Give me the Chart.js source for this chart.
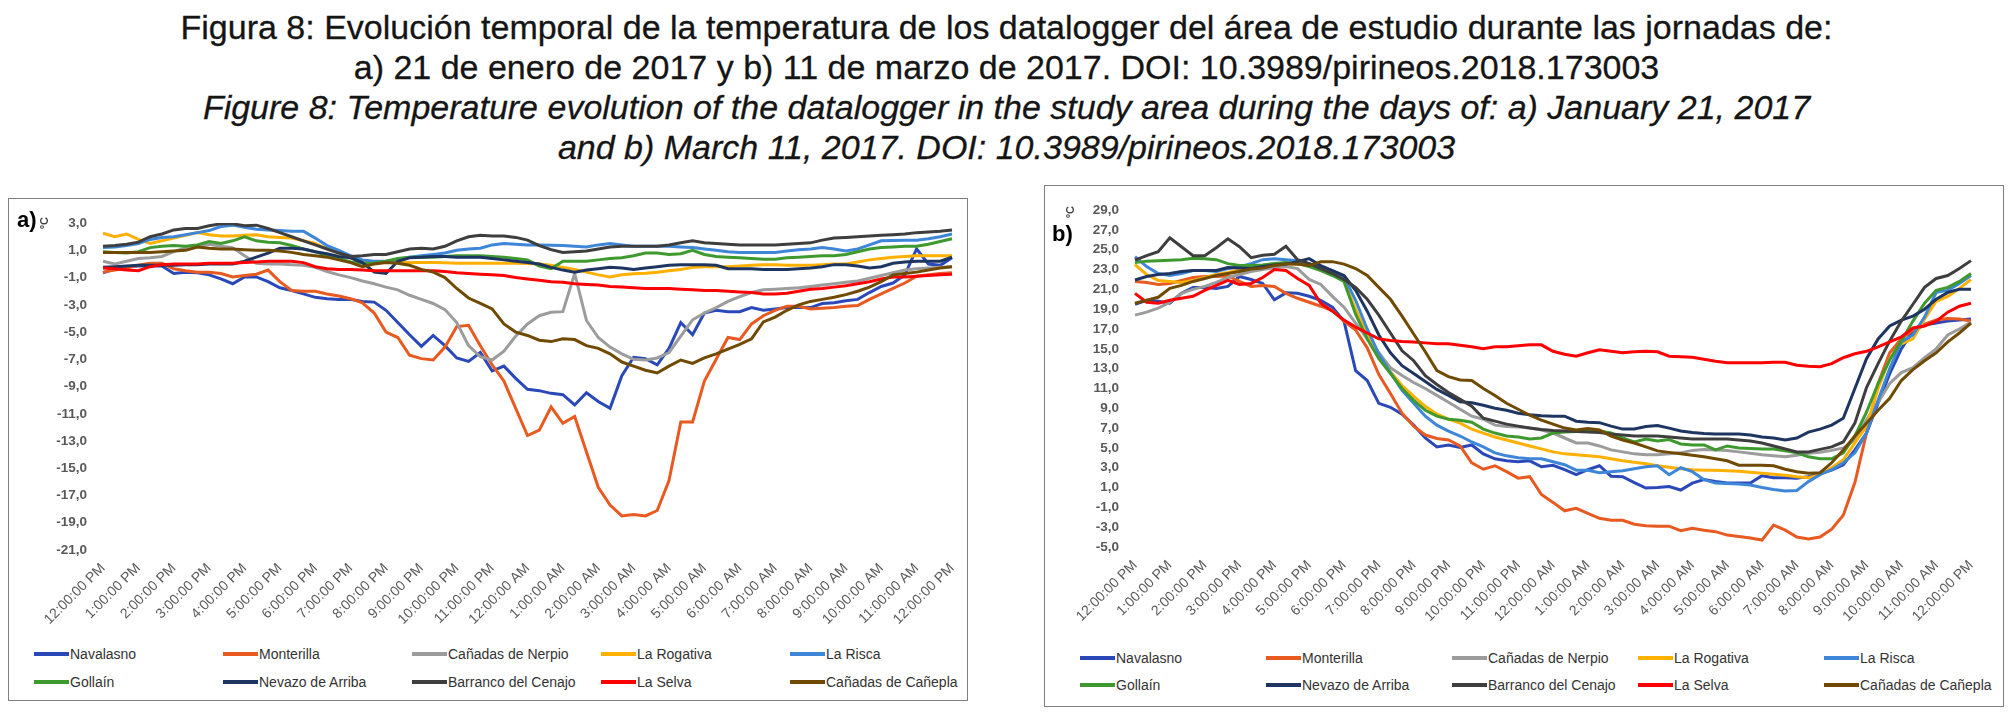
<!DOCTYPE html>
<html>
<head>
<meta charset="utf-8">
<script src="https://cdn.jsdelivr.net/npm/chart.js@4.4.1/dist/chart.umd.min.js"></script>
<style>
  body { margin:0; background:#fff; width:2013px; height:714px; overflow:hidden; position:relative;
         font-family:"Liberation Sans", Arial, sans-serif; }
  #title { position:absolute; left:0; top:7px; width:2013px; text-align:center;
           font-size:34px; line-height:40px; color:#151515; -webkit-text-stroke:0.3px #151515; }
  #title .it { font-style:italic; }
  .panel { position:absolute; box-sizing:border-box; border:1.5px solid #7f7f7f; background:#fff; }
  .panel canvas { position:absolute; left:0; top:0; }
  .tag { position:absolute; font:bold 22px "Liberation Sans", Arial, sans-serif; color:#000; line-height:22px; }
  .unit { position:absolute; font:bold 11px "Liberation Sans", Arial, sans-serif; color:#404040;
          line-height:11px; white-space:nowrap; transform:rotate(-90deg); transform-origin:left top; }
  .legend { position:absolute; display:grid; }
  .item { display:flex; align-items:center; font-size:14px; color:#333; white-space:nowrap; }
  .item i { display:inline-block; width:35px; height:4px; margin-right:1px; }
</style>
</head>
<body>
<div id="title">
  <div>Figura 8: Evolución temporal de la temperatura de los datalogger del área de estudio durante las jornadas de:</div>
  <div>a) 21 de enero de 2017 y b) 11 de marzo de 2017. DOI: 10.3989/pirineos.2018.173003</div>
  <div class="it">Figure 8: Temperature evolution of the datalogger in the study area during the days of: a) January 21, 2017</div>
  <div class="it">and b) March 11, 2017. DOI: 10.3989/pirineos.2018.173003</div>
</div>

<div class="panel" id="panelA" style="left:8px; top:198px; width:960px; height:503px;">
  <canvas id="chartA" width="957" height="441"></canvas>
  <div class="tag" style="left:8px; top:10px;">a)</div>
  <div class="unit" style="left:30px; top:30px;">ºC</div>
  <div class="legend" id="legendA" style="left:25px; top:441px; grid-template-columns:repeat(5,189px); grid-auto-rows:28px;"></div>
</div>

<div class="panel" id="panelB" style="left:1044px; top:185px; width:960px; height:522px;">
  <canvas id="chartB" width="957" height="451"></canvas>
  <div class="tag" style="left:7px; top:37px;">b)</div>
  <div class="unit" style="left:20px; top:32px;">ºC</div>
  <div class="legend" id="legendB" style="left:35px; top:458px; grid-template-columns:repeat(5,186px); grid-auto-rows:27px;"></div>
</div>

<script>
// one reading every 20 minutes, 12:00 PM to 12:00 PM
var hourLabels = ['12:00:00 PM','1:00:00 PM','2:00:00 PM','3:00:00 PM','4:00:00 PM','5:00:00 PM',
  '6:00:00 PM','7:00:00 PM','8:00:00 PM','9:00:00 PM','10:00:00 PM','11:00:00 PM','12:00:00 AM',
  '1:00:00 AM','2:00:00 AM','3:00:00 AM','4:00:00 AM','5:00:00 AM','6:00:00 AM','7:00:00 AM',
  '8:00:00 AM','9:00:00 AM','10:00:00 AM','11:00:00 AM','12:00:00 PM'];
var stations = ['Navalasno','Monterilla','Cañadas de Nerpio','La Rogativa','La Risca',
  'Gollaín','Nevazo de Arriba','Barranco del Cenajo','La Selva','Cañadas de Cañepla'];
var colores = ['#2a48b8','#e85a20','#9c9c9c','#ffb000','#3d86d8',
  '#3e9a2e','#1e3562','#3e3e3e','#ff0000','#6f4a00'];

// a) 21 de enero de 2017
var navalasnoA = [-0.65,-0.35,-0.2,-0.15,-0.15,-0.15,-0.7,-0.6,-0.65,-0.8,
  -1.1,-1.45,-0.95,-0.95,-1.3,-1.75,-1.95,-2.2,-2.45,-2.55,
  -2.6,-2.6,-2.75,-2.8,-3.4,-4.3,-5.2,-6.05,-5.25,-6.0,
  -6.9,-7.15,-6.5,-7.85,-7.5,-8.4,-9.2,-9.3,-9.5,-9.6,
  -10.35,-9.45,-10.1,-10.6,-8.2,-6.85,-6.95,-7.4,-6.2,-4.3,
  -5.2,-3.6,-3.4,-3.5,-3.5,-3.2,-3.4,-3.3,-3.2,-3.2,
  -3.2,-2.9,-2.85,-2.7,-2.6,-2.1,-1.65,-1.4,-0.8,1.1,
  0.0,-0.1,0.45];
var monterillaA = [-0.6,-0.45,-0.3,-0.1,0.05,0.05,-0.35,-0.5,-0.6,-0.6,
  -0.7,-0.95,-0.85,-0.75,-0.45,-1.3,-1.95,-2.0,-2.0,-2.2,
  -2.35,-2.55,-2.85,-3.6,-5.0,-5.4,-6.7,-6.95,-7.05,-6.1,
  -4.6,-4.5,-6.0,-7.4,-8.6,-10.6,-12.6,-12.2,-10.5,-11.7,
  -11.2,-13.8,-16.4,-17.7,-18.5,-18.4,-18.5,-18.1,-15.9,-11.6,
  -11.6,-8.6,-7.0,-5.4,-5.55,-4.4,-3.8,-3.4,-3.1,-3.1,
  -3.3,-3.25,-3.2,-3.1,-3.05,-2.6,-2.2,-1.8,-1.4,-0.9,
  -0.8,-0.7,-0.65];
var nerpioA = [0.2,0.0,0.2,0.4,0.45,0.55,0.9,1.2,1.3,1.45,
  1.3,1.2,0.6,0.05,0.0,0.0,-0.05,-0.1,-0.25,-0.55,
  -0.8,-1.0,-1.25,-1.45,-1.7,-1.9,-2.3,-2.6,-2.9,-3.35,
  -4.3,-6.0,-6.8,-7.05,-6.4,-5.3,-4.4,-3.8,-3.55,-3.5,
  -0.7,-4.15,-5.4,-6.1,-6.6,-7.0,-7.05,-6.9,-6.5,-5.3,
  -4.1,-3.6,-3.2,-2.75,-2.4,-2.1,-1.9,-1.85,-1.8,-1.75,
  -1.65,-1.55,-1.45,-1.35,-1.25,-1.05,-0.85,-0.65,-0.45,-0.35,
  -0.3,-0.25,-0.2];
var rogativaA = [2.25,2.0,2.2,1.8,1.5,1.7,1.9,2.1,2.3,2.15,
  2.05,2.05,2.1,2.15,2.0,1.95,1.9,1.7,1.5,1.1,
  0.8,0.45,0.2,0.1,0.1,0.1,0.1,0.1,0.1,0.08,
  0.05,0.05,0.05,0.05,0.05,0.05,0.03,0.0,-0.1,-0.25,
  -0.4,-0.6,-0.8,-0.95,-0.8,-0.72,-0.68,-0.6,-0.5,-0.4,
  -0.25,-0.2,-0.2,-0.2,-0.15,-0.1,-0.05,-0.05,-0.1,-0.1,
  -0.1,-0.05,0.0,0.0,0.15,0.3,0.4,0.5,0.55,0.6,
  0.6,0.6,0.6];
var riscaA = [1.2,1.25,1.35,1.5,1.8,1.95,2.0,2.15,2.3,2.45,
  2.75,2.85,2.7,2.55,2.5,2.45,2.4,2.4,1.9,1.35,
  1.0,0.6,0.3,0.2,0.2,0.35,0.5,0.6,0.7,0.8,
  1.0,1.1,1.15,1.4,1.5,1.45,1.4,1.4,1.38,1.35,
  1.3,1.25,1.4,1.5,1.4,1.3,1.3,1.3,1.3,1.25,
  1.2,1.1,1.0,0.9,0.85,0.85,0.85,0.85,0.95,1.05,
  1.1,1.2,1.1,0.95,1.1,1.4,1.7,1.72,1.75,1.75,
  1.85,2.0,2.2];
var gollainA = [0.9,0.85,0.8,0.9,1.2,1.3,1.35,1.3,1.4,1.65,
  1.5,1.7,2.0,1.7,1.6,1.55,1.35,1.1,0.9,0.6,
  0.4,0.15,0.05,0.05,0.2,0.4,0.5,0.5,0.5,0.55,
  0.6,0.6,0.6,0.55,0.5,0.4,0.3,-0.15,-0.35,0.2,
  0.2,0.2,0.3,0.4,0.45,0.6,0.8,0.8,0.7,0.75,
  1.0,0.7,0.55,0.5,0.45,0.4,0.35,0.35,0.45,0.5,
  0.55,0.6,0.6,0.7,0.9,1.1,1.2,1.25,1.3,1.3,
  1.45,1.65,1.85];
var nevazoA = [-0.25,-0.2,-0.15,-0.1,-0.1,-0.1,-0.1,-0.05,-0.05,0.0,
  0.0,0.0,0.2,0.5,0.8,1.15,1.15,1.1,0.9,0.75,
  0.55,0.45,0.1,-0.6,-0.7,0.2,0.45,0.5,0.55,0.55,
  0.5,0.5,0.5,0.4,0.3,0.2,0.1,0.0,-0.25,-0.45,
  -0.6,-0.45,-0.35,-0.25,-0.3,-0.4,-0.3,-0.2,-0.1,-0.05,
  -0.05,-0.05,-0.1,-0.35,-0.35,-0.35,-0.4,-0.4,-0.4,-0.35,
  -0.3,-0.2,-0.05,-0.05,-0.15,-0.3,-0.2,0.05,0.15,0.2,
  0.2,0.2,0.5];
var cenajoA = [1.3,1.35,1.45,1.6,2.0,2.2,2.5,2.6,2.6,2.8,
  2.95,2.95,2.8,2.85,2.6,2.3,2.0,1.7,1.4,1.1,
  0.8,0.55,0.6,0.7,0.7,0.9,1.1,1.15,1.1,1.3,
  1.7,2.0,2.1,2.05,2.05,1.95,1.75,1.35,1.05,0.85,
  0.9,0.95,1.1,1.25,1.3,1.3,1.3,1.3,1.4,1.55,
  1.7,1.55,1.5,1.45,1.4,1.4,1.4,1.4,1.45,1.5,
  1.55,1.75,1.9,1.95,2.0,2.05,2.1,2.15,2.2,2.3,
  2.35,2.4,2.5];
var selvaA = [-0.3,-0.35,-0.45,-0.5,-0.2,-0.05,0.0,0.0,0.0,0.05,
  0.05,0.05,0.1,0.15,0.2,0.2,0.2,0.1,-0.2,-0.35,
  -0.4,-0.4,-0.45,-0.5,-0.5,-0.5,-0.5,-0.5,-0.5,-0.55,
  -0.65,-0.7,-0.75,-0.8,-0.85,-1.0,-1.1,-1.2,-1.3,-1.35,
  -1.45,-1.5,-1.55,-1.65,-1.7,-1.75,-1.8,-1.8,-1.8,-1.85,
  -1.9,-1.95,-1.95,-2.0,-2.05,-2.1,-2.2,-2.2,-2.15,-2.0,
  -1.85,-1.8,-1.7,-1.6,-1.45,-1.3,-1.1,-0.95,-0.95,-0.9,
  -0.85,-0.8,-0.75];
var canepaA = [0.85,0.85,0.85,0.85,0.85,0.9,0.95,1.0,1.25,1.15,
  1.1,1.1,1.05,1.0,1.0,0.95,0.85,0.7,0.6,0.5,
  0.3,0.1,-0.2,0.0,0.1,0.05,-0.1,-0.4,-0.6,-1.0,
  -1.8,-2.5,-2.9,-3.3,-4.4,-5.0,-5.25,-5.6,-5.7,-5.5,
  -5.55,-6.0,-6.2,-6.6,-7.2,-7.5,-7.8,-8.0,-7.5,-7.05,
  -7.3,-6.9,-6.6,-6.25,-5.9,-5.5,-4.25,-3.9,-3.4,-3.0,
  -2.75,-2.6,-2.45,-2.25,-2.0,-1.7,-1.3,-0.8,-0.7,-0.6,
  -0.45,-0.3,-0.2];

// b) 11 de marzo de 2017
var navalasnoB = [19.5,19.9,19.8,19.6,20.6,21.2,21.2,21.1,21.3,22.3,
  22.0,21.6,19.95,20.65,20.6,20.3,19.9,19.2,17.8,12.8,
  11.8,9.5,9.1,8.4,7.3,6.0,5.1,5.3,5.05,5.3,
  4.4,3.9,3.7,3.6,3.7,3.1,3.25,2.8,2.3,2.8,
  3.2,2.15,2.1,1.5,0.95,1.0,1.1,0.75,1.45,1.8,
  1.6,1.45,1.45,1.45,2.2,2.0,2.0,1.95,2.1,2.4,
  2.75,3.3,4.8,6.5,9.5,12.5,15.0,16.8,17.4,17.6,
  17.8,17.9,18.0];
var monterillaB = [21.8,21.7,21.5,21.6,21.9,22.2,22.3,22.3,22.35,21.8,
  21.3,21.4,21.3,20.6,20.1,19.7,19.3,18.85,17.8,16.9,
  15.1,12.4,10.5,8.5,7.2,6.3,5.95,5.8,5.2,3.5,
  2.85,3.2,2.6,1.95,2.1,0.3,-0.5,-1.35,-1.1,-1.6,
  -2.1,-2.3,-2.3,-2.7,-2.85,-2.9,-2.9,-3.35,-3.1,-3.3,
  -3.45,-3.8,-3.95,-4.1,-4.3,-2.8,-3.3,-4.0,-4.2,-4.0,
  -3.2,-1.8,1.5,6.5,11.5,14.6,16.0,16.9,17.5,17.9,
  18.05,18.0,17.8];
var nerpioB = [18.4,18.7,19.1,19.7,20.6,21.0,21.3,21.7,22.2,22.5,
  22.8,23.0,23.2,23.3,23.1,22.0,21.5,20.3,19.2,17.6,
  16.0,14.6,13.1,12.3,11.6,11.0,10.3,9.6,8.9,8.2,
  7.9,7.3,7.15,7.1,7.0,6.8,6.5,6.0,5.5,5.5,
  5.2,4.8,4.6,4.4,4.3,4.3,4.4,4.5,4.75,4.85,
  4.8,4.75,4.6,4.45,4.3,4.2,4.1,4.25,4.45,4.55,
  4.75,5.0,5.8,7.85,9.6,11.5,12.6,13.1,14.1,15.0,
  16.4,17.0,17.7];
var rogativaB = [23.5,22.5,21.9,21.8,21.7,21.9,22.2,22.5,22.7,22.95,
  23.2,23.4,23.6,23.6,23.5,23.5,23.3,22.8,21.8,19.0,
  16.4,14.25,12.7,11.3,10.2,9.2,8.4,7.9,7.5,6.9,
  6.5,6.1,5.8,5.5,5.2,4.9,4.6,4.4,4.3,4.2,
  4.1,3.9,3.7,3.55,3.4,3.2,3.05,2.9,2.8,2.75,
  2.75,2.7,2.65,2.55,2.45,2.35,2.25,2.1,2.0,2.3,
  3.0,3.8,5.5,7.2,11.0,14.0,15.5,16.0,18.0,19.8,
  20.3,21.1,22.0];
var riscaB = [24.3,23.3,22.6,22.4,22.6,22.9,22.9,22.8,23.1,23.3,
  23.6,24.0,24.1,24.0,23.9,23.6,23.3,22.9,22.3,19.9,
  17.0,14.5,12.6,10.8,9.5,8.2,7.3,6.7,6.2,5.6,
  5.1,4.5,4.2,4.0,3.9,3.9,3.6,3.3,2.75,2.75,
  2.5,2.6,2.7,2.9,3.1,3.2,2.3,3.0,2.6,1.8,
  1.45,1.4,1.35,1.25,1.0,0.8,0.65,0.7,1.6,2.3,
  2.8,3.5,4.5,6.5,9.8,13.0,15.7,16.4,18.2,20.7,
  20.9,21.6,22.4];
var gollainB = [23.7,23.85,23.9,23.95,24.0,24.15,24.1,24.0,23.6,23.4,
  23.4,23.45,23.6,23.7,23.6,23.3,22.9,22.4,21.8,18.5,
  16.0,14.0,12.5,11.0,9.8,8.8,8.2,7.9,7.8,7.6,
  6.9,6.5,6.2,6.1,5.9,6.0,6.5,6.6,6.65,6.7,
  6.7,6.5,6.0,5.6,5.9,5.7,5.85,5.4,5.3,5.3,
  4.8,5.2,5.0,4.95,4.9,4.9,4.7,4.5,4.1,3.9,
  3.9,4.5,6.2,8.6,11.5,13.9,15.8,17.8,19.6,20.9,
  21.2,21.8,22.6];
var nevazoB = [21.95,22.3,22.5,22.6,22.8,22.9,22.9,22.9,23.2,23.15,
  23.1,23.3,23.45,23.55,23.8,24.1,23.4,22.9,22.4,20.9,
  18.8,16.4,14.6,13.3,12.5,11.7,10.9,10.3,9.65,9.55,
  9.3,9.0,8.8,8.5,8.35,8.25,8.2,8.2,7.7,7.6,
  7.55,7.2,6.9,6.9,7.15,7.25,7.0,6.7,6.55,6.45,
  6.4,6.4,6.4,6.3,6.1,6.0,5.8,6.0,6.6,6.9,
  7.3,8.0,11.0,14.0,16.0,17.3,17.9,18.3,19.0,20.0,
  20.7,21.0,21.0];
var cenajoB = [23.95,24.4,24.8,26.2,25.3,24.4,24.4,25.2,26.1,25.3,
  24.2,24.45,24.55,25.35,24.0,23.6,23.1,22.6,22.0,21.2,
  20.0,18.4,16.6,14.8,13.8,12.3,11.4,10.6,9.9,9.2,
  8.0,7.7,7.4,7.2,7.0,6.85,6.75,6.7,6.65,6.6,
  6.55,6.4,6.3,6.2,6.2,6.2,6.1,6.0,5.9,5.9,
  5.9,5.9,5.8,5.7,5.5,5.2,4.9,4.6,4.6,4.85,
  5.1,5.6,7.5,11.1,13.5,15.8,17.8,19.5,21.2,22.1,
  22.4,23.1,23.9];
var selvaB = [20.6,19.7,19.6,19.9,20.1,20.3,20.9,21.4,21.9,21.5,
  21.6,22.2,23.0,22.9,22.1,21.4,19.6,18.8,17.9,17.2,
  16.6,16.0,15.85,15.75,15.7,15.6,15.5,15.5,15.35,15.2,
  15.0,15.2,15.2,15.3,15.4,15.4,14.75,14.45,14.25,14.6,
  14.9,14.75,14.6,14.7,14.75,14.7,14.25,14.2,14.15,13.95,
  13.75,13.6,13.6,13.6,13.6,13.65,13.65,13.35,13.25,13.2,
  13.5,14.1,14.5,14.75,15.2,15.7,16.2,17.1,17.3,17.8,
  18.7,19.3,19.6];
var canepaB = [19.6,19.9,20.2,21.1,21.4,21.8,22.1,22.4,22.6,22.8,
  23.05,23.15,23.4,23.55,23.55,23.4,23.8,23.8,23.55,23.1,
  22.4,21.2,20.0,18.3,16.5,14.7,12.8,12.2,11.85,11.8,
  11.0,10.3,9.5,8.9,8.3,7.8,7.4,7.0,6.8,6.95,
  6.8,6.2,5.8,5.5,5.1,4.7,4.55,4.4,4.25,4.1,
  3.9,3.7,3.25,3.25,3.25,3.2,2.85,2.6,2.45,2.5,
  3.5,4.8,6.2,7.5,8.8,10.0,11.8,12.9,13.8,14.6,
  15.7,16.6,17.6];

var seriesA = [navalasnoA, monterillaA, nerpioA, rogativaA, riscaA, gollainA, nevazoA, cenajoA, selvaA, canepaA];
var seriesB = [navalasnoB, monterillaB, nerpioB, rogativaB, riscaB, gollainB, nevazoB, cenajoB, selvaB, canepaB];

var categorias = [];
for (var h = 0; h < hourLabels.length; h++) {
  categorias.push(hourLabels[h]);
  if (h < hourLabels.length - 1) { categorias.push(''); categorias.push(''); }
}

Chart.defaults.font.family = '"Liberation Sans", Arial, sans-serif';
Chart.defaults.color = '#595959';

function coma(v) { return v.toFixed(1).replace('.', ','); }

function graficar(id, series, ymin, ymax, ejeAncho, padDer, lineaCero) {
  var datasets = [];
  for (var i = 0; i < series.length; i++) {
    datasets.push({
      label: stations[i],
      data: series[i],
      borderColor: colores[i],
      backgroundColor: colores[i],
      borderWidth: 3,
      pointRadius: 0,
      tension: 0,
      order: series.length - i
    });
  }
  var ctx = document.getElementById(id).getContext('2d');
  return new Chart(ctx, {
    type: 'line',
    data: { labels: categorias, datasets: datasets },
    options: {
      responsive: false,
      animation: false,
      devicePixelRatio: 1,
      layout: { padding: { top: 16, right: padDer, left: 0, bottom: 0 } },
      plugins: { legend: { display: false }, tooltip: { enabled: false } },
      scales: {
        x: {
          type: 'category',
          offset: false,
          grid: { display: false },
          border: { display: false },
          ticks: {
            autoSkip: false, minRotation: 45, maxRotation: 45, padding: 2,
            font: { size: 14 }, color: '#595959',
            callback: function (v, idx) { return categorias[idx]; }
          },
          afterFit: function (s) { s.height = 90; }
        },
        y: {
          min: ymin, max: ymax,
          grid: {
            drawTicks: false,
            color: function (c) { return (lineaCero && c.tick && c.tick.value === 0) ? '#d9d9d9' : 'rgba(0,0,0,0)'; }
          },
          border: { display: false },
          ticks: { stepSize: 2, padding: 16, font: { size: 13.5, weight: 'bold' }, color: '#595959',
                   callback: function (v) { return coma(v); } },
          afterFit: function (s) { s.width = ejeAncho; }
        }
      }
    }
  });
}

function leyenda(chart, id) {
  var box = document.getElementById(id);
  chart.data.datasets.forEach(function (ds) {
    var it = document.createElement('div');
    it.className = 'item';
    var ln = document.createElement('i');
    ln.style.background = ds.borderColor;
    it.appendChild(ln);
    it.appendChild(document.createTextNode(ds.label));
    box.appendChild(it);
  });
}

var chartA = graficar('chartA', seriesA, -21, 3, 94, 14, true);
var chartB = graficar('chartB', seriesB, -5, 29, 90, 31, false);
leyenda(chartA, 'legendA');
leyenda(chartB, 'legendB');
</script>
</body>
</html>
